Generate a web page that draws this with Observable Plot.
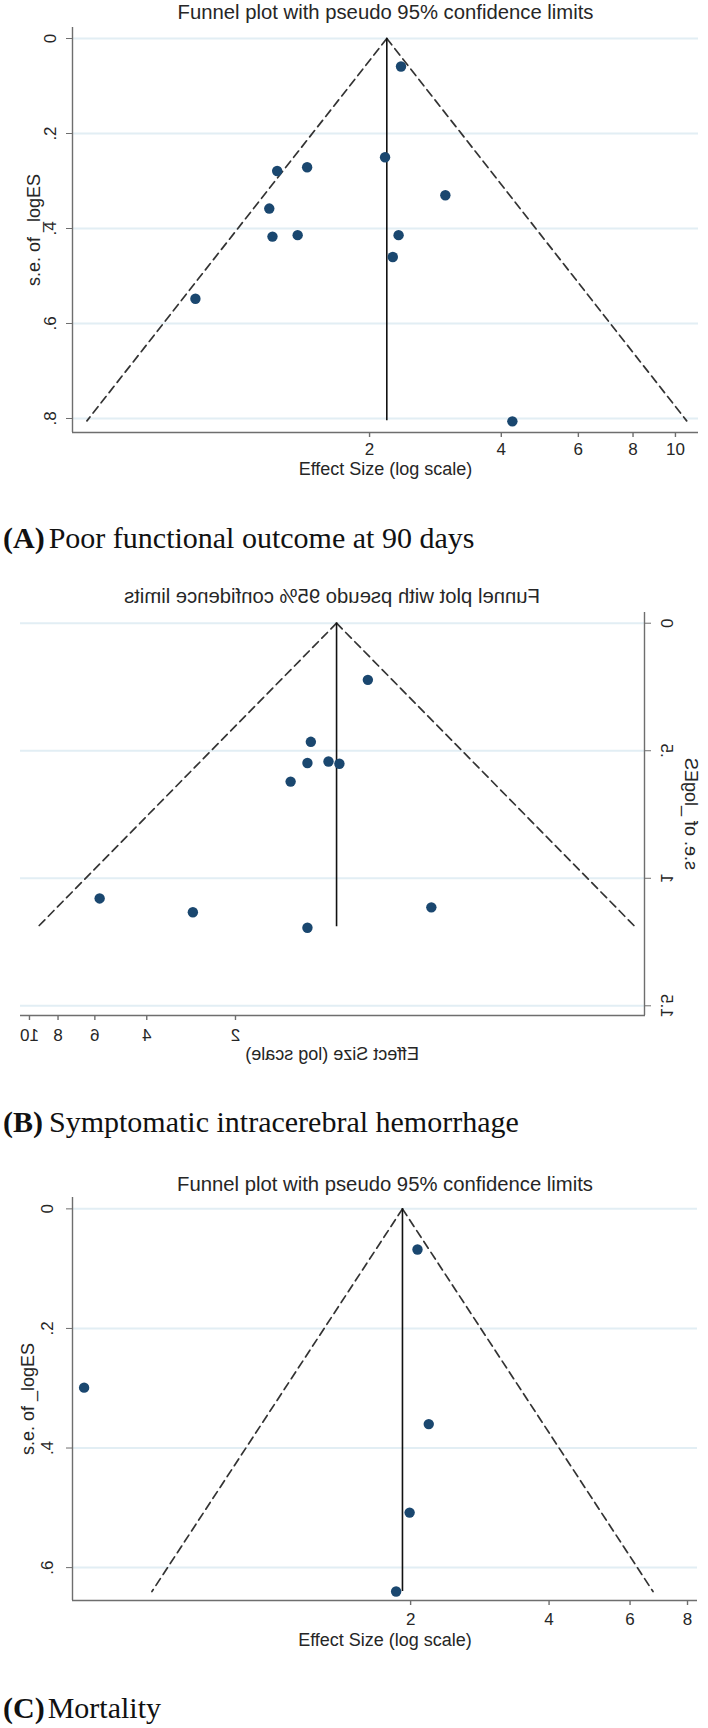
<!DOCTYPE html>
<html>
<head>
<meta charset="utf-8">
<script src="https://cdn.jsdelivr.net/npm/d3@7"></script>
<script src="https://cdn.jsdelivr.net/npm/@observablehq/plot@0.6"></script>
<style>
html, body { margin: 0; padding: 0; background: #fff; }
#page { position: relative; width: 708px; height: 1728px; overflow: hidden; background: #fff; }
.panel { position: absolute; left: 0; width: 708px; }
.panel svg { display: block; overflow: visible; }
.mirror { transform: scaleX(-1); }
.caption { position: absolute; left: 3px; font-family: 'Liberation Serif', 'Times New Roman', serif; font-size: 30px; line-height: 30px; color: #111; white-space: nowrap; }
.caption b { font-weight: bold; }
</style>
</head>
<body>
<div id="page"></div>
<script>
// ---- shared text ----
const titleText = "Funnel plot with pseudo 95% confidence limits";
const xLabel = "Effect Size (log scale)";
const yLabel = "s.e. of _logES";

// ---- Panel A: Poor functional outcome at 90 days ----
const esA = [2.36, 2.17, 1.23, 1.44, 2.98, 1.18, 1.20, 1.37, 2.33, 2.26, 0.80, 4.24];
const seA = [0.059, 0.250, 0.279, 0.271, 0.330, 0.358, 0.417, 0.414, 0.414, 0.460, 0.548, 0.806];
const pooledA = 2.19;
const seMaxA = 0.805;
const xTicksA = [2, 4, 6, 8, 10];
const yTicksA = [0, 0.2, 0.4, 0.6, 0.8];
const tagA = "(A)";
const captionA = "Poor functional outcome at 90 days";

// ---- Panel B: Symptomatic intracerebral hemorrhage ----
const esB = [0.711, 1.11, 1.14, 0.967, 0.888, 1.30, 5.78, 2.79, 0.433, 1.14];
const seB = [0.222, 0.465, 0.548, 0.542, 0.551, 0.621, 1.079, 1.133, 1.114, 1.194];
const pooledB = 0.908;
const seMaxB = 1.19;
const xTicksB = [2, 4, 6, 8, 10];
const yTicksB = [0, 0.5, 1, 1.5];
const tagB = "(B)";
const captionB = "Symptomatic intracerebral hemorrhage";

// ---- Panel C: Mortality ----
const esC = [2.07, 0.39, 2.19, 1.99, 1.86];
const seC = [0.068, 0.299, 0.360, 0.508, 0.640];
const pooledC = 1.92;
const seMaxC = 0.64;
const xTicksC = [2, 4, 6, 8];
const yTicksC = [0, 0.2, 0.4, 0.6];
const tagC = "(C)";
const captionC = "Mortality";

const fmtY = d => d === 0 ? "0" : String(d).replace(/^0\./, ".");

function funnel(cfg) {
  const pts = cfg.es.map((e, i) => ({es: e, se: cfg.se[i]}));
  const edges = [-1, 1].flatMap(s => [0, cfg.seMax].map(se => ({side: s, se, es: cfg.pooled * Math.exp(s * 1.96 * se)})));
  const axisColor = "#6e6e6e";
  const textColor = "#262626";
  const frameH = cfg.height - cfg.mt - cfg.mb;
  const tickLen = 5;
  return Plot.plot({
    width: 708,
    height: cfg.height,
    marginTop: cfg.mt, marginBottom: cfg.mb, marginLeft: cfg.ml, marginRight: cfg.mr,
    x: {type: "log", domain: cfg.xDomain, axis: null},
    y: {type: "linear", domain: cfg.yDomain, reverse: true, axis: null},
    style: {fontFamily: "'Liberation Sans', Arial, Helvetica, sans-serif", fontSize: "17px", color: textColor, background: "transparent", overflow: "visible"},
    marks: [
      Plot.gridY(cfg.yTicks, {stroke: "#e2eef4", strokeOpacity: 1, strokeWidth: 2}),
      Plot.ruleX([cfg.xDomain[0]], {stroke: axisColor, strokeWidth: 1.4}),
      Plot.ruleY([cfg.yDomain[1]], {stroke: axisColor, strokeWidth: 1.4}),
      // x ticks and labels
      Plot.tickX(cfg.xTicks, {x: d => d, insetTop: frameH - tickLen, dy: tickLen, stroke: axisColor, strokeWidth: 1.4}),
      Plot.text(cfg.xTicks, {x: d => d, frameAnchor: "bottom", dy: tickLen + cfg.xPad, lineAnchor: "top", text: d => String(d), fontSize: 17, fill: textColor}),
      // y ticks and labels
      Plot.axisY({ticks: cfg.yTicks, tickSize: 6, tickFormat: () => "", label: null, stroke: axisColor}),
      Plot.text(cfg.yTicks, {frameAnchor: "left", y: d => d, text: fmtY, rotate: -90, dx: cfg.yTickDx, textAnchor: "middle", lineAnchor: "middle", fontSize: 17, fill: textColor}),
      // axis titles and plot title
      Plot.text([yLabel], {frameAnchor: "left", dx: cfg.yLabelDx, rotate: -90, textAnchor: "middle", lineAnchor: "middle", fontSize: 18, fill: textColor}),
      Plot.text([xLabel], {frameAnchor: "bottom", dy: cfg.xLabelDy, lineAnchor: "top", fontSize: 18, fill: textColor}),
      Plot.text([titleText], {frameAnchor: "top", dy: cfg.titleDy, lineAnchor: "middle", fontSize: 20.3, fill: textColor}),
      // funnel
      Plot.line(edges, {x: "es", y: "se", z: "side", stroke: "#333", strokeWidth: 1.7, strokeDasharray: "8,5"}),
      Plot.ruleX([cfg.pooled], {y1: 0, y2: cfg.seMax, stroke: "#111", strokeWidth: 1.6}),
      Plot.dot(pts, {x: "es", y: "se", r: 5.2, fill: "#1a476f"})
    ]
  });
}

const page = document.getElementById("page");

function addPanel(top, cfg, mirror) {
  const div = document.createElement("div");
  div.className = "panel" + (mirror ? " mirror" : "");
  div.style.top = top + "px";
  div.appendChild(funnel(cfg));
  page.appendChild(div);
}

function addCaption(top, tag, text, gap) {
  const div = document.createElement("div");
  div.className = "caption";
  div.style.top = top + "px";
  const b = document.createElement("b");
  b.textContent = tag;
  b.style.marginRight = gap + "px";
  const s = document.createElement("span");
  s.textContent = text;
  div.appendChild(b);
  div.appendChild(s);
  page.appendChild(div);
}

addPanel(0, {
  es: esA, se: seA, pooled: pooledA, seMax: seMaxA, xTicks: xTicksA, yTicks: yTicksA,
  height: 480, mt: 27, mb: 48, ml: 72, mr: 10,
  xDomain: [0.419, 11.29], yDomain: [-0.0232, 0.8295],
  xPad: 5, xLabelDy: 30, titleDy: -15, yTickDx: -22, yLabelDx: -38
}, false);
addCaption(523, tagA, captionA, 4);

addPanel(580, {
  es: esB, se: seB, pooled: pooledB, seMax: seMaxB, xTicks: xTicksB, yTicks: yTicksB,
  height: 490, mt: 32, mb: 55, ml: 63, mr: 20,
  xDomain: [0.0819, 10.81], yDomain: [-0.042, 1.538],
  xPad: 8, xLabelDy: 31.7, titleDy: -16, yTickDx: -21.7, yLabelDx: -46.7
}, true);
addCaption(1107, tagB, captionB, 6);

addPanel(1170, {
  es: esC, se: seC, pooled: pooledC, seMax: seMaxC, xTicks: xTicksC, yTicks: yTicksC,
  height: 480, mt: 27, mb: 50, ml: 72, mr: 11,
  xDomain: [0.368, 8.41], yDomain: [-0.019, 0.655],
  xPad: 7, xLabelDy: 33, titleDy: -13.5, yTickDx: -25, yLabelDx: -44.5
}, false);
addCaption(1693, tagC, captionC, 3);
</script>
</body>
</html>
